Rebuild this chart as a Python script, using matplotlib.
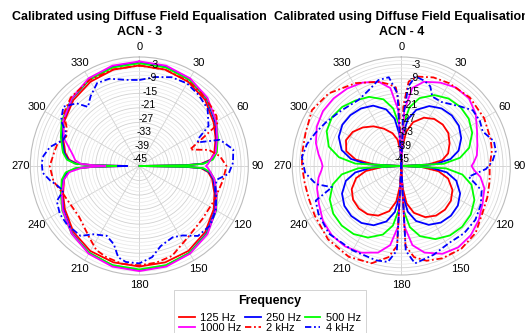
import numpy as np
import matplotlib
matplotlib.use("Agg")
import matplotlib.pyplot as plt
from matplotlib.lines import Line2D

plt.rcParams['font.family'] = ['Liberation Sans', 'DejaVu Sans']

# ---------------- data (dB) ----------------
labels = ['125 Hz', '250 Hz', '500 Hz', '1000 Hz', '2 kHz', '4 kHz']
colors = ['#ff0000', '#0000ff', '#00ff00', '#ff00ff', '#ff0000', '#0000ff']
dashdot = (0, (3.5, 1.5, 1.0, 1.5))
styles = ['-', '-', '-', '-', dashdot, dashdot]
titles = ['Calibrated using Diffuse Field Equalisation\nACN - 3',
          'Calibrated using Diffuse Field Equalisation\nACN - 4']
theta_ticks = list(range(0, 360, 30))
r_ticks = [-45, -39, -33, -27, -21, -15, -9, -3]

# ACN-3
theta3_solid = [0, 15, 30, 45, 60, 70, 80, 85, 88, 89, 90, 91, 92, 95, 100, 110, 120, 135, 150, 165,
                180, 195, 210, 225, 240, 250, 260, 265, 268, 269, 270, 271, 272, 275, 280, 290, 300,
                315, 330, 345, 360]
acn3_125 = [-3.5, -3.8, -4.8, -6.5, -9.5, -11.5, -13.5, -15.5, -19.5, -26, -45, -26, -19.5, -16.5, -14.5,
            -12, -9.5, -6.5, -4.5, -3.8, -3.5, -3.8, -4.5, -6.5, -9.5, -11.5, -13.5, -15.5, -19.5, -26,
            -40, -26, -19.5, -16, -14, -11.5, -9, -6.5, -4.8, -3.8, -3.5]
acn3_250 = [-2.2, -2.6, -3.8, -5.7, -8.8, -11, -13, -15, -19, -26, -45, -26, -19, -16, -14, -11.5, -8.8,
            -5.7, -3.6, -2.4, -2.0, -2.4, -3.6, -5.7, -8.8, -11, -13, -15, -19, -26, -40, -26, -19,
            -15.5, -13.5, -11, -8.5, -5.7, -3.8, -2.6, -2.2]
acn3_500 = [-2.6, -2.9, -3.8, -5.5, -8.3, -10.5, -12.5, -14.5, -18.5, -25, -45, -25, -18.5, -15.5, -13.5,
            -11, -8.3, -5.5, -3.6, -2.6, -2.3, -2.6, -3.6, -5.5, -8.3, -10.5, -12.5, -14.5, -18.5, -25,
            -35.5, -25, -18.5, -15, -13, -10.5, -8, -5.5, -3.8, -2.9, -2.6]
acn3_1000 = [-1.8, -2.1, -3.2, -5.2, -8.3, -10.8, -13, -15.5, -16.5, -17, -17.5, -17, -16.5, -15.5, -13.5,
             -11, -8.5, -5.2, -3.2, -2, -1.6, -2, -3.2, -5.5, -8.5, -11, -13.5, -16, -21, -26, -31,
             -26, -21, -18.5, -17, -12, -8.5, -5.5, -3.2, -2.1, -1.8]
theta3_2k = [0, 15, 30, 40, 50, 57, 62, 66, 72, 77, 83, 90, 100, 115, 130, 145, 160, 170, 180, 190,
             200, 207, 215, 230, 240, 250, 260, 270, 280, 285, 292, 298, 305, 315, 330, 345, 360]
acn3_2k = [-3.5, -3.8, -4.5, -5.5, -6.5, -7, -8.5, -16, -23, -15.5, -11.5, -9, -10, -11, -11, -9.5,
           -5.5, -4.5, -4, -4, -5, -6, -9, -12.5, -12.5, -11.5, -9, -8, -9.5, -10, -12.5, -11, -7,
           -5, -4, -3.7, -3.5]
theta3_4k = [0, 10, 20, 30, 40, 50, 60, 65, 68, 72, 80, 88, 95, 100, 105, 112, 120, 130, 140, 148,
             155, 165, 172, 180, 188, 193, 198, 205, 214, 220, 231, 239, 247, 252, 257, 261, 266,
             272, 276, 282, 289, 294, 300, 308, 315, 319, 325, 333, 341, 352, 360]
acn3_4k = [-9.5, -7.7, -6, -5.6, -6.8, -8.2, -12, -18, -19, -10, -5.6, -6.3, -8, -12.5, -12.5, -10.8,
           -8.5, -6.8, -7.3, -11.2, -12.5, -10.8, -7, -4.8, -5, -6.3, -11, -13.2, -11, -7.3, -6.6,
           -6.7, -8, -12, -10, -7.6, -5, -4.7, -5.2, -7.3, -11.8, -12.1, -7.7, -5.2, -8.4, -12.7,
           -9.9, -6.6, -6.9, -9.1, -9.5]

# ACN-4
theta4_solid = [0, 3, 8, 15, 25, 35, 45, 55, 65, 75, 82, 87,
                90, 93, 98, 105, 115, 125, 135, 145, 155, 165, 172, 177,
                180, 183, 188, 195, 205, 215, 225, 235, 245, 255, 262, 267,
                270, 273, 278, 285, 295, 305, 315, 325, 335, 345, 352, 357, 360]
acn4_125 = [-45, -37.8, -30.8, -26.3, -23.0, -21.3, -20.8, -21.3, -23.0, -25.0, -28.0, -34.0,
            -45, -36.5, -29.5, -25.0, -21.7, -20.0, -19.5, -20.0, -21.7, -25.0, -29.5, -36.5,
            -45, -37.2, -30.2, -25.7, -22.4, -20.7, -20.2, -20.7, -22.4, -25.7, -30.2, -37.2,
            -45, -34, -26, -21.5, -19.8, -20.5, -22.5, -25, -28, -31, -34, -39, -45]
acn4_250 = [-45, -32, -25.5, -21, -17.7, -16, -15.5, -16, -17.7, -20.5, -24.5, -31,
            -45, -33, -26, -21.5, -18.2, -16.5, -16, -16.5, -18.2, -21.5, -26, -33,
            -45, -32.8, -25.8, -21.3, -18, -16.3, -15.8, -16.3, -18, -21.3, -25.8, -32.8,
            -45, -31, -24, -19.5, -16.5, -15.3, -15.3, -16, -17.5, -20.8, -25.3, -32.3, -45]
acn4_500 = [-45, -27.5, -20.5, -16, -12.7, -11, -10.5, -11, -12.7, -16, -20.5, -27.5,
            -45, -26.5, -19.5, -15, -11.7, -10, -9.5, -10, -11.7, -15, -19.5, -26.5,
            -45, -27.2, -20.2, -15.7, -12.4, -10.7, -10.2, -10.7, -12.4, -15.7, -20.2, -27.2,
            -45, -26, -19, -14, -11, -10, -10.5, -12, -13.5, -16.5, -21, -28, -45]
acn4_1000 = [-45, -22, -12.5, -9, -7, -5.5, -5.5, -7.5, -10.5, -12.5, -13.5, -15,
             -16, -15, -12, -9.5, -8, -6, -4.5, -4, -5, -8, -12, -20,
             -45, -20, -12, -8, -5.5, -4.5, -4.5, -5.5, -7.5, -9, -10.5, -12,
             -12.5, -12, -10.5, -8.5, -6.5, -5.5, -5.5, -6, -7, -9, -12.5, -22, -45]
theta4_2k = [0, 2, 5, 10, 20, 30, 45, 60, 73, 80, 90, 100, 110, 120, 132, 144, 156, 165, 172, 177,
             180, 183, 188, 197, 210, 225, 240, 250, 260, 270, 277, 289, 302, 315, 331, 345, 352,
             356, 358, 360]
acn4_2k = [-45, -20, -10, -7.5, -6.1, -5.5, -5, -5.5, -6.5, -7, -8.5, -8, -7.2, -6.3, -3.7, -2.8,
           -3.3, -4.5, -7, -12, -45, -12, -7, -3, -1.7, -2.2, -3.8, -4.5, -4.5, -4, -3.7, -3.2,
           -1.5, -2.6, -5.9, -9, -11, -12.5, -20, -45]
theta4_4k = [0, 2, 5, 9, 15, 20, 24, 32, 45, 52, 60, 67, 75, 81, 87, 92, 99, 107, 116, 126, 137,
             148, 160, 172, 177, 180, 183, 188, 195, 210, 227, 240, 248, 253, 258, 266, 275, 283,
             291, 300, 313, 327, 337, 345, 352, 357, 360]
acn4_4k = [-45, -25, -12, -7.6, -8.5, -10, -13.6, -13.8, -10.3, -7.6, -7.6, -8.5, -5.4, -5.5, -7.3,
           -10, -16.8, -10.3, -8.5, -7.2, -7, -7.6, -6, -4.4, -10, -45, -10, -5, -4.7, -4.8, -4.1,
           -5.5, -6.9, -15.1, -9, -5.2, -3.8, -5, -7, -9, -11.3, -12.5, -10.9, -8.3, -8, -15, -45]

panels = [
    [(theta3_solid, acn3_125), (theta3_solid, acn3_250), (theta3_solid, acn3_500),
     (theta3_solid, acn3_1000), (theta3_2k, acn3_2k), (theta3_4k, acn3_4k)],
    [(theta4_solid, acn4_125), (theta4_solid, acn4_250), (theta4_solid, acn4_500),
     (theta4_solid, acn4_1000), (theta4_2k, acn4_2k), (theta4_4k, acn4_4k)],
]

# ---------------- figure ----------------
W, H = 525, 333
fig = plt.figure(figsize=(W / 100, H / 100), dpi=100)
R = 109.0
centers = [(139.3, 166.0), (401.3, 166.0)]
LW = 1.3

for k, (cx, cy) in enumerate(centers):
    ax = fig.add_axes([(cx - R) / W, (H - cy - R) / H, 2 * R / W, 2 * R / H], projection='polar')
    ax.set_theta_zero_location('N')
    ax.set_theta_direction(-1)
    ax.set_rlim(-45, 0)
    # grid
    ax.set_yticks(r_ticks[1:])
    ax.set_yticks(list(np.arange(-43.5, 0, 1.5)), minor=True)
    ax.set_yticklabels([])
    ax.yaxis.grid(True, which='major', color='#d0d0d0', lw=0.6)
    ax.yaxis.grid(True, which='minor', color='#e6e6e6', lw=0.5)
    ax.set_thetagrids(theta_ticks, [str(t) for t in theta_ticks], fontsize=8)
    ax.xaxis.grid(True, color='#cfcfcf', lw=0.6)
    ax.tick_params(axis='x', pad=-3.5)
    ax.spines['polar'].set_color('#bdbdbd')
    ax.spines['polar'].set_linewidth(0.8)

    for (th, vals), c, ls in zip(panels[k], colors, styles):
        ax.plot(np.deg2rad(th), vals, color=c, ls=ls, lw=LW)

    # radial tick labels
    for v in r_ticks:
        rp = (v + 45) / 45 * R
        dist = 0.935 * rp + 7
        ang = np.deg2rad(8.6)
        x = cx + dist * np.sin(ang)
        y = cy - dist * np.cos(ang)
        fig.text(x / W, 1 - y / H, str(v), fontsize=7.5, ha='center', va='center', zorder=10)

    # title
    t1, t2 = titles[k].split('\n')
    fig.text(cx / W, 1 - 17 / H, t1, fontsize=9, fontweight='bold', ha='center', va='center')
    fig.text(cx / W, 1 - 32 / H, t2, fontsize=9, fontweight='bold', ha='center', va='center')

# legend
handles = [Line2D([], [], color=c, ls=ls, lw=LW) for c, ls in zip(colors, styles)]
order = [0, 3, 1, 4, 2, 5]
leg = fig.legend([handles[i] for i in order], [labels[i] for i in order], ncol=3,
                 loc='upper center', bbox_to_anchor=(270 / W, 1 - 290 / H),
                 title='Frequency', fontsize=8, title_fontproperties={'weight': 'bold', 'size': 9},
                 frameon=True, fancybox=False, edgecolor='#cccccc', framealpha=1,
                 handlelength=1.4, handletextpad=0.5, columnspacing=0.3, borderpad=0.45,
                 labelspacing=0.0, borderaxespad=0)
leg.get_frame().set_linewidth(0.6)
try:
    leg._legend_box.sep = 4.4
except Exception:
    pass

fig.savefig('out.png', dpi=100)
